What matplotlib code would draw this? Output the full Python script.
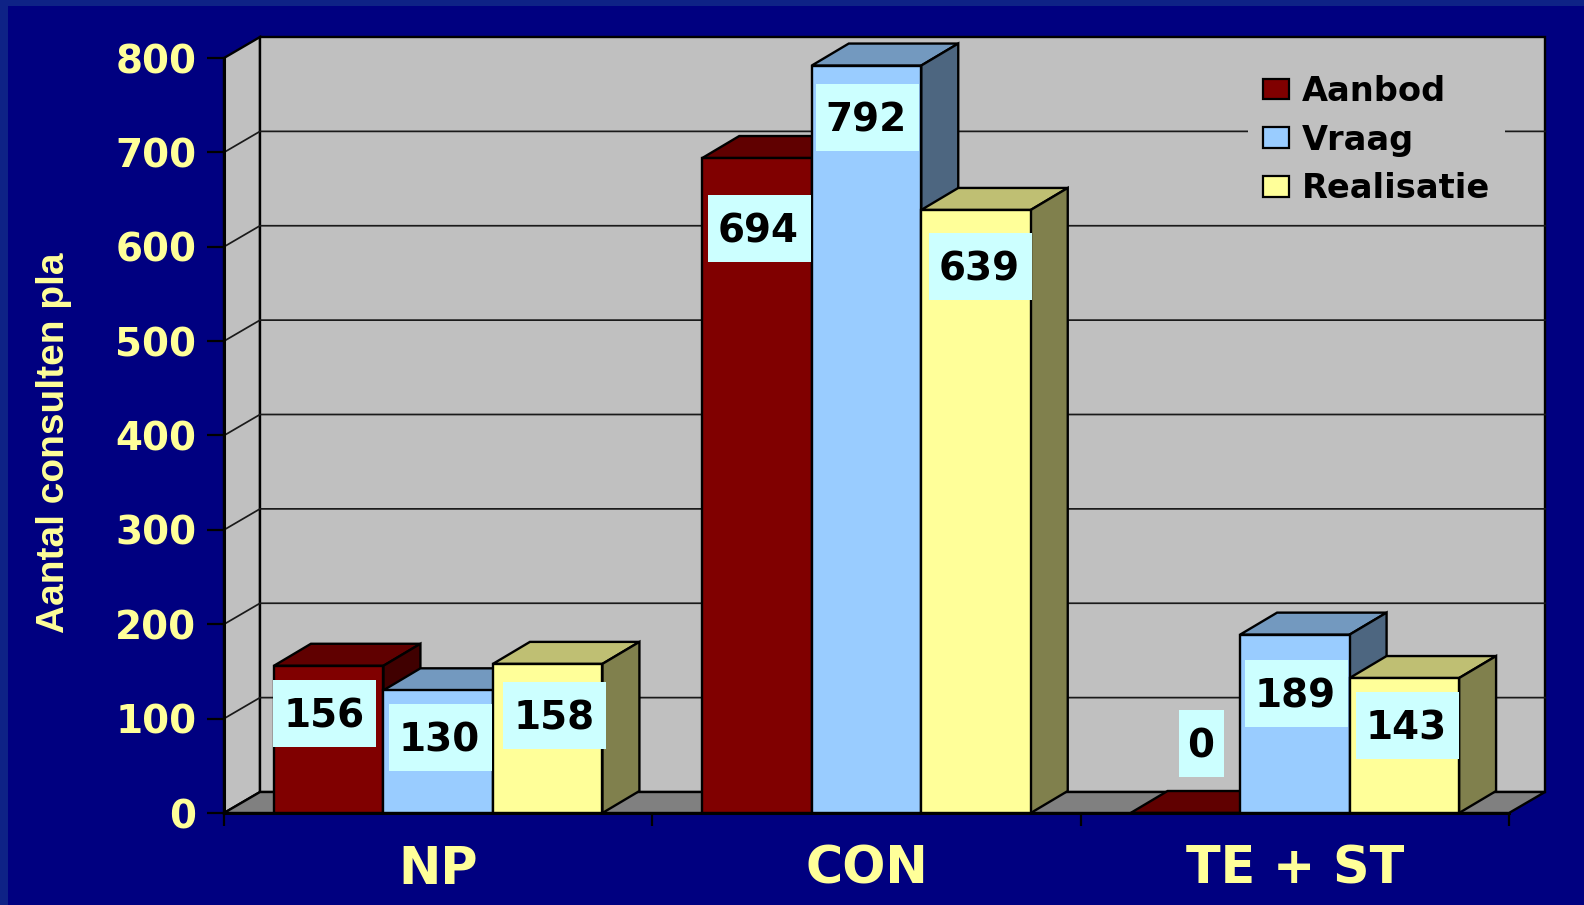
#!/usr/bin/env python3
import matplotlib
matplotlib.use("Agg")
import matplotlib.pyplot as plt
from matplotlib.patches import Patch, Polygon, Rectangle

categories = ["NP", "CON", "TE + ST"]
series_names = ["Aanbod", "Vraag", "Realisatie"]
aanbod = [156, 694, 0]
vraag = [130, 792, 189]
realisatie = [158, 639, 143]
y_ticks = [0, 100, 200, 300, 400, 500, 600, 700, 800]
y_title = "Aantal consulten pla"

# front, top, side colours per series
front_colors = ["#800000", "#99CCFF", "#FFFF99"]
top_colors = ["#600000", "#7399BF", "#BFBF73"]
side_colors = ["#400000", "#4D6680", "#80804D"]
text_color = "#FFFF99"
navy = "#000080"

# label box offsets from the top of each bar, in pixels
label_dx = [[-4, 2, 7], [2.5, 1, 4.5], [16, 1.6, 3]]
label_dy = [[-47.7, -47.2, -51.6], [-70.5, -52, -56.5], [69.5, -58.9, -47.5]]

fig = plt.figure(figsize=(15.84, 9.05), dpi=100, facecolor=navy)
ax = fig.add_axes([224 / 1584, 92 / 905, 1285 / 1584, 755 / 905])
ax.set_xlim(0, 3)
ax.set_ylim(0, 800)
ax.patch.set_visible(False)

# pixels to data units
px_x = 3 / 1285
px_y = 800 / 755
depth_x = 36 * px_x
depth_y = 21 * px_y
bar_dx = 37 * px_x
bar_dy = 22 * px_y
bar_w = 109.5 * px_x

# lighter band along the top and left of the slide
fig.add_artist(Rectangle((0, 1 - 6 / 905), 1, 6 / 905, transform=fig.transFigure, color="#0E2286", lw=0))
fig.add_artist(Rectangle((0, 0), 8 / 1584, 1, transform=fig.transFigure, color="#0E2286", lw=0))


def poly(points, color, z, lw=1.7):
    ax.add_patch(Polygon(points, closed=True, facecolor=color, edgecolor="black",
                         linewidth=lw, clip_on=False, zorder=z, joinstyle="miter"))


# walls and floor
poly([(0, 0), (depth_x, depth_y), (depth_x, 800 + depth_y), (0, 800)], "#C0C0C0", 1)
poly([(depth_x, depth_y), (3 + depth_x, depth_y), (3 + depth_x, 800 + depth_y),
      (depth_x, 800 + depth_y)], "#C0C0C0", 1)
poly([(0, 0), (3, 0), (3 + depth_x, depth_y), (depth_x, depth_y)], "#808080", 1)

for v in y_ticks[1:-1]:
    ax.plot([0, depth_x, 3 + depth_x], [v, v + depth_y, v + depth_y], color="#1A1A1A",
            lw=1.25, clip_on=False, zorder=1.5)

# bars, left to right so later boxes sit in front
values = [aanbod, vraag, realisatie]
labels = []
for i in range(len(categories)):
    for j in range(len(values)):
        v = values[j][i]
        x0 = i + 0.5 + (j - 1.5) * bar_w
        x1 = x0 + bar_w
        z = 3 + i + j * 0.1
        poly([(x0, v), (x1, v), (x1 + bar_dx, v + bar_dy), (x0 + bar_dx, v + bar_dy)], top_colors[j], z)
        poly([(x1, 0), (x1 + bar_dx, bar_dy), (x1 + bar_dx, v + bar_dy), (x1, v)], side_colors[j], z)
        poly([(x0, 0), (x1, 0), (x1, v), (x0, v)], front_colors[j], z)
        labels.append((x0 + bar_w / 2 + label_dx[i][j] * px_x, v + label_dy[i][j] * px_y, str(v)))

for cx, cy, s in labels:
    w = (45 if s == "0" else 103) * px_x
    h = 67 * px_y
    ax.add_patch(Rectangle((cx - w / 2, cy - h / 2), w, h, facecolor="#CCFFFF", edgecolor="none",
                           clip_on=False, zorder=10))
    ax.text(cx - 1 * px_x, cy + 1 * px_y, s, ha="center", va="center_baseline", fontsize=28, fontweight="bold",
            family="DejaVu Sans", color="black", zorder=11)

# axes
for side in ["top", "right"]:
    ax.spines[side].set_visible(False)
for side in ["left", "bottom"]:
    ax.spines[side].set_linewidth(2.2)
    ax.spines[side].set_zorder(20)

ax.set_yticks(y_ticks)
ax.tick_params(axis="y", length=12, width=1.6, pad=8, labelsize=28, labelcolor=text_color, color="black")
ax.set_xticks([0, 1, 2, 3])
ax.set_xticklabels([])
ax.tick_params(axis="x", which="major", length=9.5, width=1.6, color="black")
ax.set_xticks([0.5, 1.5, 2.5], minor=True)
ax.set_xticklabels(categories, minor=True)
ax.tick_params(axis="x", which="minor", length=0, pad=23, labelsize=36.5, labelcolor=text_color)
for t in ax.get_yticklabels() + ax.get_xticklabels(minor=True):
    t.set_fontweight("bold")
    t.set_family("DejaVu Sans")

ax.set_ylabel(y_title, fontsize=28, fontweight="bold", family="Liberation Sans", color=text_color)
ax.yaxis.set_label_coords(-0.118, 0.49)

handles = [Patch(facecolor=c, edgecolor="black", linewidth=1.6) for c in front_colors]
leg = ax.legend(handles, series_names, loc="upper left", bbox_to_anchor=(0.797, 0.997), borderaxespad=0,
                frameon=True, facecolor="#C0C0C0", edgecolor="none", framealpha=1, fancybox=False,
                handlelength=0.78, handleheight=0.57, handletextpad=0.39, borderpad=0.43, labelspacing=0.47,
                prop={"family": "DejaVu Sans", "weight": "bold", "size": 24.2})
leg.set_zorder(2)

fig.savefig("out.png", dpi=100, facecolor=navy)
